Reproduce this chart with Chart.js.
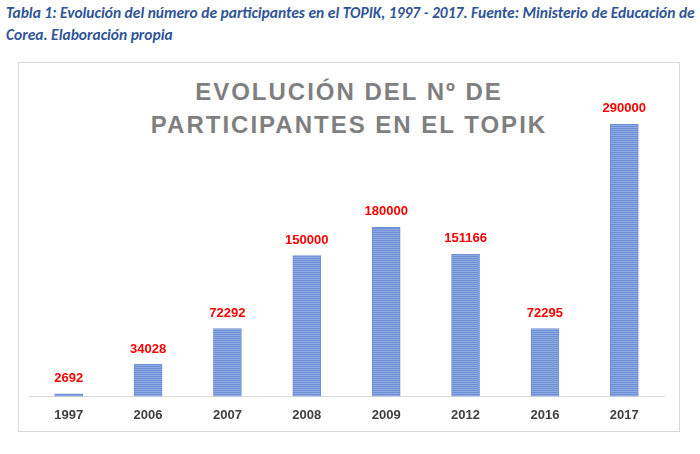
<!DOCTYPE html>
<html><head><meta charset="utf-8">
<script src="https://cdn.jsdelivr.net/npm/chart.js@4"></script>
<style>
body{margin:0;background:#fff;width:700px;height:454px;position:relative;font-family:Calibri,"Liberation Sans",Carlito,sans-serif;}
#cap{position:absolute;left:6px;top:2px;width:690px;font-style:italic;font-weight:bold;font-size:15.5px;line-height:22px;color:#2f5597;}
#box{position:absolute;left:18px;top:62px;width:662px;height:370px;border:1px solid #d9d9d9;box-sizing:border-box;}
#title{position:absolute;left:18px;top:75px;width:662px;text-align:center;color:#7f7f7f;font-weight:bold;font-size:24px;letter-spacing:2px;line-height:33px;font-family:"Liberation Sans",sans-serif;}
#wrap{position:absolute;left:18px;top:62px;width:662px;height:370px;}
</style></head><body>
<div id="cap">Tabla 1: Evolución del número de participantes en el TOPIK, 1997 - 2017. Fuente: Ministerio de Educación de Corea. Elaboración propia</div>
<div id="box"></div>
<div id="title">EVOLUCIÓN DEL Nº DE<br>PARTICIPANTES EN EL TOPIK</div>
<div id="wrap"><canvas id="c" width="662" height="370"></canvas></div>
<script>
const categories=["1997","2006","2007","2008","2009","2012","2016","2017"];
const participants=[2692,34028,72292,150000,180000,151166,72295,290000];

const pc=document.createElement('canvas');pc.width=4;pc.height=4;
const px=pc.getContext('2d');
px.fillStyle='#8eaae2';px.fillRect(0,0,4,4);
px.fillStyle='#6f8fd6';px.fillRect(0,0,4,1);px.fillRect(0,2,4,1);

const labelPlugin={id:'lbl',afterDatasetsDraw(ch){
 const ctx=ch.ctx;const meta=ch.getDatasetMeta(0);
 ctx.save();ctx.fillStyle='#ff0000';ctx.font='bold 13px "Liberation Sans",sans-serif';ctx.textAlign='center';ctx.textBaseline='bottom';
 meta.data.forEach((b,i)=>ctx.fillText(participants[i],b.x,b.y-9));
 ctx.restore();}};

const ctx=document.getElementById('c').getContext('2d');
const pattern=ctx.createPattern(pc,'repeat');
new Chart(ctx,{type:'bar',
 data:{labels:categories,datasets:[{data:participants,backgroundColor:pattern,borderColor:'#6f8fd6',borderWidth:1,barThickness:28}]},
 options:{responsive:false,animation:false,
  layout:{padding:{top:62,left:11,right:16,bottom:6}},
  plugins:{legend:{display:false},tooltip:{enabled:false}},
  scales:{
   x:{grid:{display:false},border:{display:true,color:'#d9d9d9'},ticks:{color:'#404040',font:{weight:'bold',size:13,family:'"Liberation Sans",sans-serif'}}},
   y:{display:false,min:0,max:290000}
  }},
 plugins:[labelPlugin]});
</script>
</body></html>
